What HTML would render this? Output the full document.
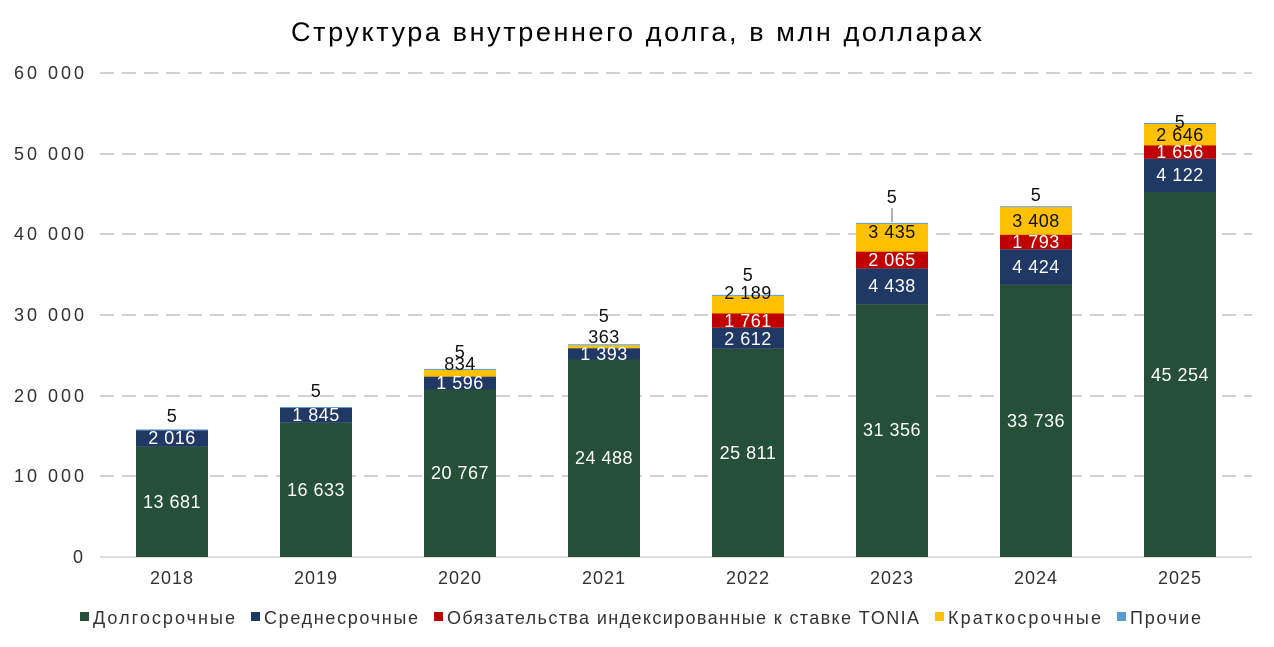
<!DOCTYPE html>
<html><head><meta charset="utf-8"><style>
body{margin:0;background:#fff;}
svg{display:block;font-family:"Liberation Sans",sans-serif;}
</style></head><body>
<svg width="1274" height="647" viewBox="0 0 1274 647">
<rect width="1274" height="647" fill="#fff"/>
<text x="291" y="41" font-size="27" fill="#000" textLength="691" lengthAdjust="spacing">Структура внутреннего долга, в млн долларах</text>
<g stroke="#d0d0d0" stroke-width="2" stroke-dasharray="14,8">
<line x1="100" x2="1252" y1="73" y2="73"/><line x1="100" x2="1252" y1="154" y2="154"/>
<line x1="100" x2="1252" y1="234" y2="234"/><line x1="100" x2="1252" y1="315" y2="315"/>
<line x1="100" x2="1252" y1="396" y2="396"/><line x1="100" x2="1252" y1="476" y2="476"/>
</g>
<line x1="100" x2="1252" y1="557" y2="557" stroke="#d0d0d0" stroke-width="1.5"/>
<g font-size="18" fill="#333">
<text x="14" y="79" textLength="70">60 000</text><text x="14" y="160" textLength="70">50 000</text><text x="14" y="240" textLength="70">40 000</text>
<text x="14" y="321" textLength="70">30 000</text><text x="14" y="402" textLength="70">20 000</text><text x="14" y="482" textLength="70">10 000</text><text x="73" y="563">0</text>
</g>
<g font-size="18" fill="#333" text-anchor="middle" letter-spacing="1">
<text x="172" y="584">2018</text><text x="316" y="584">2019</text><text x="460" y="584">2020</text><text x="604" y="584">2021</text>
<text x="748" y="584">2022</text><text x="892" y="584">2023</text><text x="1036" y="584">2024</text><text x="1180" y="584">2025</text>
</g>
<g>
<rect x="136" y="446.6" width="72" height="110.4" fill="#264F38"/>
<rect x="136" y="430.4" width="72" height="16.2" fill="#1F3864"/>
<rect x="136" y="429.4" width="72" height="1" fill="#5B9BD5"/>

<rect x="280" y="422.8" width="72" height="134.2" fill="#264F38"/>
<rect x="280" y="408" width="72" height="14.8" fill="#1F3864"/>
<rect x="280" y="407" width="72" height="1" fill="#5B9BD5"/>

<rect x="424" y="389.5" width="72" height="167.5" fill="#264F38"/>
<rect x="424" y="376.6" width="72" height="12.9" fill="#1F3864"/>
<rect x="424" y="369.9" width="72" height="6.7" fill="#FFC000"/>
<rect x="424" y="368.9" width="72" height="1" fill="#5B9BD5"/>

<rect x="568" y="359.5" width="72" height="197.5" fill="#264F38"/>
<rect x="568" y="348.2" width="72" height="11.3" fill="#1F3864"/>
<rect x="568" y="345.3" width="72" height="2.9" fill="#FFC000"/>
<rect x="568" y="344.3" width="72" height="1" fill="#5B9BD5"/>

<rect x="712" y="348.8" width="72" height="208.2" fill="#264F38"/>
<rect x="712" y="327.7" width="72" height="21.1" fill="#1F3864"/>
<rect x="712" y="313.5" width="72" height="14.2" fill="#C00000"/>
<rect x="712" y="295.9" width="72" height="17.6" fill="#FFC000"/>
<rect x="712" y="294.9" width="72" height="1" fill="#5B9BD5"/>

<rect x="856" y="304.1" width="72" height="252.9" fill="#264F38"/>
<rect x="856" y="268.3" width="72" height="35.8" fill="#1F3864"/>
<rect x="856" y="251.6" width="72" height="16.7" fill="#C00000"/>
<rect x="856" y="223.9" width="72" height="27.7" fill="#FFC000"/>
<rect x="856" y="222.9" width="72" height="1" fill="#5B9BD5"/>

<rect x="1000" y="284.9" width="72" height="272.1" fill="#264F38"/>
<rect x="1000" y="249.2" width="72" height="35.7" fill="#1F3864"/>
<rect x="1000" y="234.7" width="72" height="14.5" fill="#C00000"/>
<rect x="1000" y="207.2" width="72" height="27.5" fill="#FFC000"/>
<rect x="1000" y="206.2" width="72" height="1" fill="#5B9BD5"/>

<rect x="1144" y="192" width="72" height="365" fill="#264F38"/>
<rect x="1144" y="158.7" width="72" height="33.3" fill="#1F3864"/>
<rect x="1144" y="145.3" width="72" height="13.4" fill="#C00000"/>
<rect x="1144" y="124" width="72" height="21.3" fill="#FFC000"/>
<rect x="1144" y="123" width="72" height="1" fill="#5B9BD5"/>
</g>
<line x1="892" y1="208" x2="892" y2="222" stroke="#999" stroke-width="1.5"/>
<g font-size="18" text-anchor="middle" fill="#fff" letter-spacing="0.5">
<text x="172" y="508">13 681</text><text x="172" y="444">2 016</text>
<text x="316" y="496">16 633</text><text x="316" y="421">1 845</text>
<text x="460" y="479">20 767</text><text x="460" y="389">1 596</text>
<text x="604" y="464">24 488</text><text x="604" y="360">1 393</text>
<text x="748" y="459">25 811</text><text x="748" y="345">2 612</text><text x="748" y="327">1 761</text>
<text x="892" y="436">31 356</text><text x="892" y="292">4 438</text><text x="892" y="266">2 065</text>
<text x="1036" y="427">33 736</text><text x="1036" y="273">4 424</text><text x="1036" y="248">1 793</text>
<text x="1180" y="381">45 254</text><text x="1180" y="181">4 122</text><text x="1180" y="158">1 656</text>
</g>
<g font-size="18" text-anchor="middle" fill="#111" letter-spacing="0.5">
<text x="172" y="422">5</text><text x="316" y="397">5</text>
<text x="460" y="358">5</text><text x="460" y="370">834</text>
<text x="604" y="322">5</text><text x="604" y="343">363</text>
<text x="748" y="281">5</text><text x="748" y="299">2 189</text>
<text x="892" y="203">5</text><text x="892" y="238">3 435</text>
<text x="1036" y="201">5</text><text x="1036" y="227">3 408</text>
<text x="1180" y="128">5</text><text x="1180" y="141">2 646</text>
</g>
<g font-size="18" fill="#333">
<rect x="80" y="612" width="9" height="9" fill="#264F38"/><text x="93" y="624" textLength="142">Долгосрочные</text>
<rect x="251" y="612" width="9" height="9" fill="#1F3864"/><text x="264" y="624" textLength="154">Среднесрочные</text>
<rect x="434" y="612" width="9" height="9" fill="#C00000"/><text x="447" y="624" textLength="472">Обязательства индексированные к ставке TONIA</text>
<rect x="935" y="612" width="9" height="9" fill="#FFC000"/><text x="948" y="624" textLength="153">Краткосрочные</text>
<rect x="1117" y="612" width="9" height="9" fill="#5B9BD5"/><text x="1130" y="624" textLength="71">Прочие</text>
</g>
</svg>
</body></html>
